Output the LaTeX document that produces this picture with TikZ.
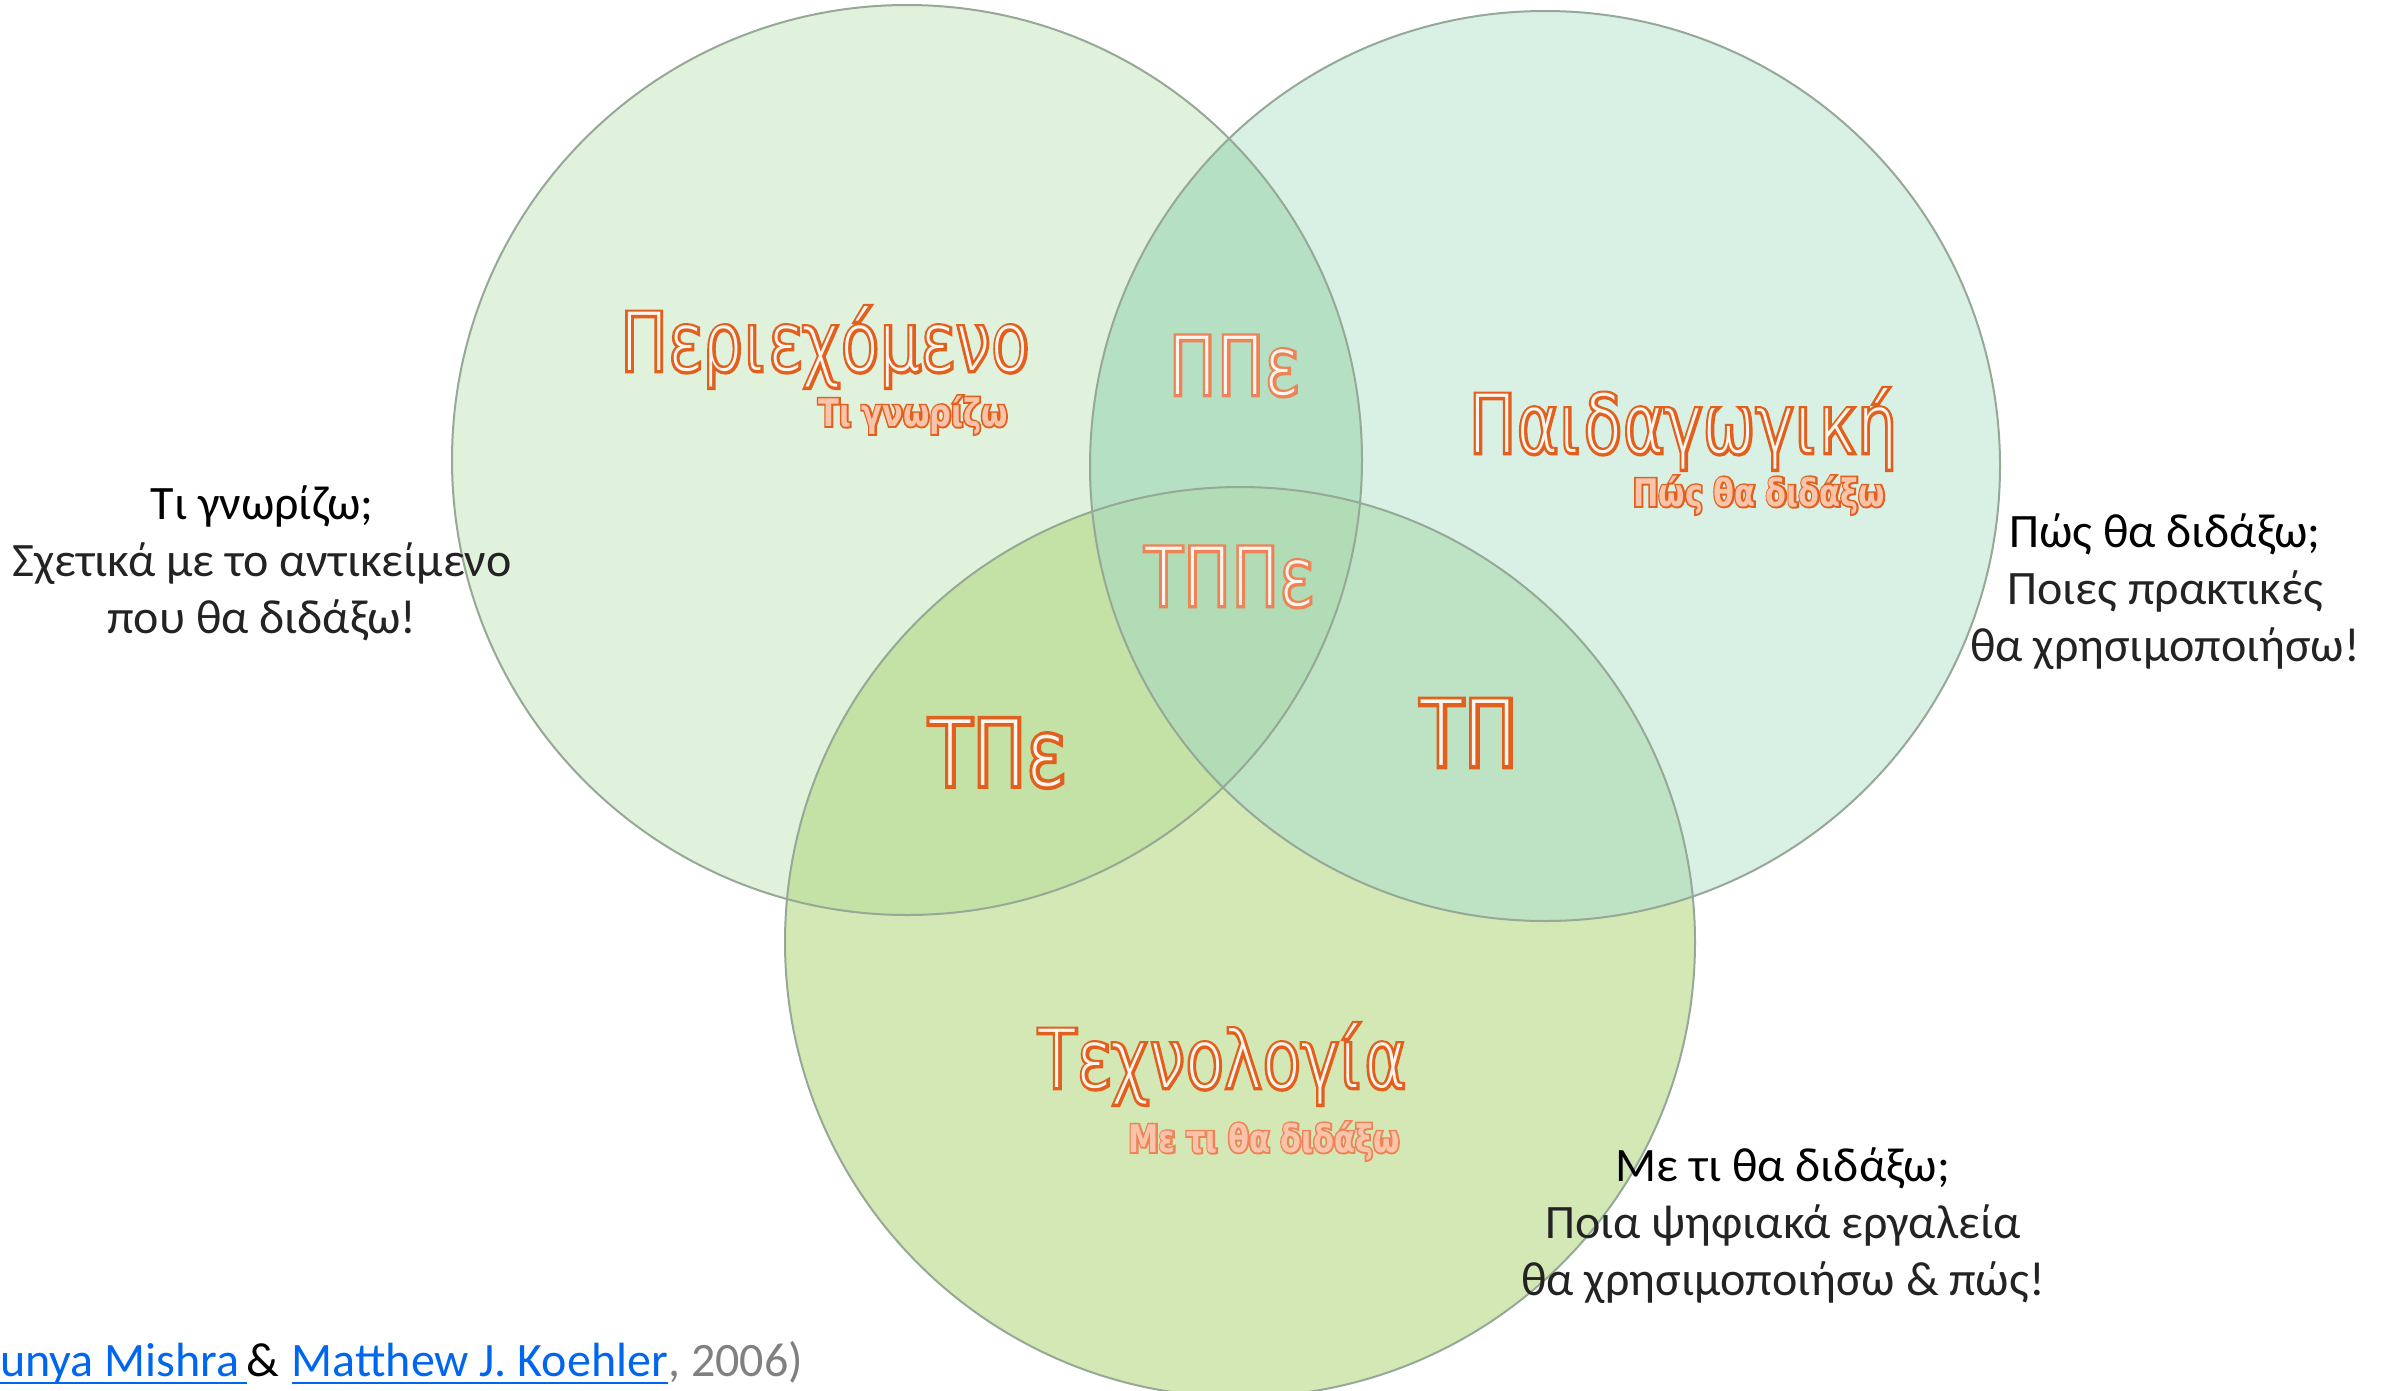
\documentclass[tikz,border=0pt]{standalone}
\usepackage{fontspec}
\setmainfont{Carlito}
\newfontfamily\lblout[FakeStretch=0.8,FakeBold=7]{DejaVu Sans ExtraLight}
\newfontfamily\lblin[FakeStretch=0.8]{DejaVu Sans ExtraLight}
\newfontfamily\midout[FakeStretch=0.8,FakeBold=8]{DejaVu Sans ExtraLight}
\newfontfamily\subout[FakeStretch=0.8,FakeBold=9]{DejaVu Sans}
\newfontfamily\subin[FakeStretch=0.8]{DejaVu Sans}
\definecolor{fcA}{RGB}{224,241,220}
\definecolor{fcB}{RGB}{217,240,228}
\definecolor{fcC}{RGB}{211,232,181}
\definecolor{fcAB}{RGB}{182,224,195}
\definecolor{fcAC}{RGB}{196,226,165}
\definecolor{fcBC}{RGB}{189,227,196}
\definecolor{fcABC}{RGB}{177,220,181}
\definecolor{ringc}{RGB}{150,168,150}
\definecolor{orD}{RGB}{226,96,30}
\definecolor{orL}{RGB}{236,132,88}
\definecolor{inW}{RGB}{255,246,240}
\definecolor{inP}{RGB}{250,196,170}
\definecolor{linkc}{RGB}{0,102,238}
\definecolor{grayc}{RGB}{128,128,128}
\definecolor{bodyc}{RGB}{35,35,35}
\newcommand\olbl[2]{\rlap{\color{#1}\lblout #2}{\color{inW}\lblin #2}}
\newcommand\omid[2]{\rlap{\color{#1}\midout #2}{\color{inW}\lblin #2}}
\newcommand\osub[2]{\rlap{\color{#1}\subout\bfseries #2}{\color{inP}\subin\bfseries #2}}
\begin{document}
\begin{tikzpicture}[x=1pt,y=-1pt,
  ring/.style={draw=ringc,line width=2pt},
  side/.style={align=center,inner sep=0pt,font=\fontsize{48}{57}\selectfont},
  biglbl/.style={inner sep=0pt,font=\fontsize{80}{90}\selectfont},
  midlbl/.style={inner sep=0pt,font=\fontsize{90}{100}\selectfont},
  sublbl/.style={inner sep=0pt,font=\fontsize{38}{44}\selectfont},
  cite/.style={inner sep=0pt,anchor=base west,font=\fontsize{48}{56}\selectfont}]
\useasboundingbox (0,0) rectangle (2382,1390);
\coordinate (c1) at (907,460);
\coordinate (c2) at (1545,466);
\coordinate (c3) at (1240,942);
% fills
\fill[fcA] (c1) circle[radius=455pt];
\fill[fcB] (c2) circle[radius=455pt];
\fill[fcC] (c3) circle[radius=455pt];
\begin{scope}\clip (c1) circle[radius=455pt];\fill[fcAB] (c2) circle[radius=455pt];\end{scope}
\begin{scope}\clip (c1) circle[radius=455pt];\fill[fcAC] (c3) circle[radius=455pt];\end{scope}
\begin{scope}\clip (c2) circle[radius=455pt];\fill[fcBC] (c3) circle[radius=455pt];\end{scope}
\begin{scope}\clip (c1) circle[radius=455pt];\clip (c2) circle[radius=455pt];\fill[fcABC] (c3) circle[radius=455pt];\end{scope}
% outlines
\draw[ring] (c1) circle[radius=455pt];
\draw[ring] (c2) circle[radius=455pt];
\draw[ring] (c3) circle[radius=455pt];
% orange labels
\node[biglbl] (content) at (825,347) {\olbl{orD}{Περιεχόμενο}};
\node[sublbl] (contentsub) at (913,415) {\osub{orD}{Τι γνωρίζω}};
\node[biglbl] (ppe) at (1234,366) {\olbl{orL}{ΠΠε}};
\node[biglbl] (ped) at (1683,429) {\olbl{orD}{Παιδαγωγική}};
\node[sublbl] (pedsub) at (1759,495) {\osub{orD}{Πώς θα διδάξω}};
\node[biglbl] (tppe) at (1229,577) {\olbl{orL}{ΤΠΠε}};
\node[midlbl] (tpe) at (997,753) {\omid{orD}{ΤΠε}};
\node[midlbl] (tp) at (1469,733) {\omid{orD}{ΤΠ}};
\node[biglbl] (tech) at (1222,1064) {\olbl{orD}{Τεχνολογία}};
\node[sublbl] (techsub) at (1264,1141) {\osub{orL}{Με τι θα διδάξω}};
% side texts
\node[side] (lefttxt) at (262,563) {Τι γνωρίζω;\\{\color{bodyc}Σχετικά με το αντικείμενο}\\{\color{bodyc}που θα διδάξω!}};
\node[side] (righttxt) at (2165,592) {Πώς θα διδάξω;\\{\color{bodyc}Ποιες πρακτικές}\\{\color{bodyc}θα χρησιμοποιήσω!}};
\node[side] (bottxt) at (1783,1226) {Με τι θα διδάξω;\\{\color{bodyc}Ποια ψηφιακά εργαλεία}\\{\color{bodyc}θα χρησιμοποιήσω \& πώς!}};
% citation
\node[cite,text=linkc] (citeA) at (0,1376) {unya Mishra\kern7pt};
\node[cite] (citeB) at (citeA.base east) {\&\kern12pt};
\node[cite,text=linkc] (citeC) at (citeB.base east) {Matthew J. Koehler};
\node[cite,text=grayc] (citeD) at (citeC.base east) {, 2006)};
\draw[linkc,line width=2.5pt] ([yshift=-7pt]citeA.base west) -- ([yshift=-7pt]citeA.base east);
\draw[linkc,line width=2.5pt] ([yshift=-7pt]citeC.base west) -- ([yshift=-7pt]citeC.base east);
\end{tikzpicture}
\end{document}
